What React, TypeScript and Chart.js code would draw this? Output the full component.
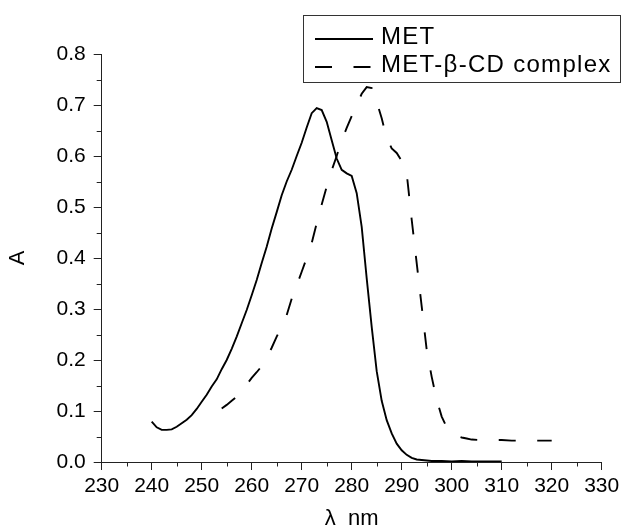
import React, { useEffect, useRef } from "react";
import { Chart, registerables } from "chart.js";

Chart.register(...registerables);

const metWavelength = [240, 241, 242, 243, 244, 245, 246, 247, 248, 249, 250, 251, 252, 253, 254, 255, 256, 257, 258, 259, 260, 261, 262, 263, 264, 265, 266, 267, 268, 269, 270, 271, 272, 273, 274, 275, 276, 277, 278, 279, 280, 281, 282, 283, 284, 285, 286, 287, 288, 289, 290, 291, 292, 293, 294, 295, 296, 298, 300, 302, 304, 306, 308, 310];
const metAbsorbance = [0.079, 0.068, 0.063, 0.063, 0.064, 0.069, 0.076, 0.083, 0.092, 0.104, 0.118, 0.132, 0.148, 0.162, 0.182, 0.2, 0.222, 0.246, 0.272, 0.298, 0.327, 0.357, 0.39, 0.422, 0.458, 0.49, 0.523, 0.55, 0.573, 0.6, 0.626, 0.656, 0.684, 0.694, 0.69, 0.667, 0.631, 0.595, 0.573, 0.566, 0.561, 0.527, 0.461, 0.36, 0.265, 0.178, 0.12, 0.082, 0.056, 0.036, 0.023, 0.014, 0.008, 0.005, 0.004, 0.003, 0.002, 0.002, 0.001, 0.002, 0.001, 0.001, 0.001, 0.001];

const complexWavelength = [254, 255, 256, 257, 258, 259, 260, 261, 262, 263, 264, 265, 266, 267, 268, 269, 270, 271, 272, 273, 274, 275, 276, 277, 278, 279, 280, 281, 282, 283, 284, 285, 286, 287, 288, 289, 290, 291, 292, 293, 294, 295, 296, 297, 298, 299, 300, 301, 302, 303, 304, 306, 308, 310, 312, 314, 316, 318, 320];
const complexAbsorbance = [0.105, 0.112, 0.12, 0.128, 0.14, 0.152, 0.165, 0.176, 0.188, 0.204, 0.224, 0.246, 0.265, 0.288, 0.32, 0.346, 0.373, 0.4, 0.429, 0.468, 0.505, 0.54, 0.572, 0.6, 0.631, 0.655, 0.678, 0.7, 0.722, 0.735, 0.733, 0.706, 0.674, 0.635, 0.615, 0.606, 0.59, 0.566, 0.475, 0.39, 0.305, 0.22, 0.167, 0.122, 0.089, 0.068, 0.056, 0.051, 0.048, 0.046, 0.044, 0.043, 0.043, 0.043, 0.042, 0.042, 0.042, 0.042, 0.042];

const seriesLabels = ["MET", "MET-\u03b2-CD complex"];
const xTitle = "\u03bb  nm";
const yTitle = "A";
const xMin = 230;
const xMax = 330;
const xStep = 10;
const yMin = 0;
const yMax = 0.8;
const yStep = 0.1;

const DASH = [17, 21.5];
const AXIS_COLOR = "#222";
const FONT = "'Liberation Sans', Arial, Helvetica, sans-serif";

const minorTicksAndLegend = {
  id: "minorTicksAndLegend",
  afterDraw(chart: any) {
    const ctx = chart.ctx;
    const xs = chart.scales.x;
    const ys = chart.scales.y;
    const area = chart.chartArea;
    ctx.save();
    ctx.strokeStyle = AXIS_COLOR;
    ctx.lineWidth = 1;
    ctx.beginPath();
    for (let v = xMin + xStep / 2; v < xMax; v += xStep) {
      const px = Math.round(xs.getPixelForValue(v)) + 0.5;
      ctx.moveTo(px, area.bottom);
      ctx.lineTo(px, area.bottom + 4.5);
    }
    for (let i = 0; i < Math.round((yMax - yMin) / yStep); i++) {
      const v = yMin + yStep * (i + 0.5);
      const py = Math.round(ys.getPixelForValue(v)) + 0.5;
      ctx.moveTo(area.left, py);
      ctx.lineTo(area.left - 5, py);
    }
    ctx.stroke();

    // legend box
    const bx = 303.5, by = 15.5, bw = 317, bh = 67;
    ctx.fillStyle = "#fff";
    ctx.fillRect(bx, by, bw, bh);
    ctx.strokeStyle = "#333";
    ctx.lineWidth = 1;
    ctx.strokeRect(bx, by, bw, bh);

    const rows = [39, 67];
    chart.data.datasets.forEach((ds: any, i: number) => {
      const y = rows[i];
      ctx.strokeStyle = ds.borderColor;
      ctx.lineWidth = ds.borderWidth;
      ctx.setLineDash(ds.borderDash || []);
      ctx.beginPath();
      ctx.moveTo(315, y);
      ctx.lineTo(373, y);
      ctx.stroke();
      ctx.setLineDash([]);
      ctx.fillStyle = "#000";
      ctx.font = `24px ${FONT}`;
      (ctx as any).letterSpacing = "1.3px";
      ctx.textBaseline = "middle";
      ctx.textAlign = "left";
      ctx.fillText(ds.label, 381, y - 2);
      (ctx as any).letterSpacing = "0px";
    });
    ctx.restore();
  },
};

export default function App() {
  const canvasRef = useRef<HTMLCanvasElement | null>(null);

  useEffect(() => {
    const canvas = canvasRef.current;
    if (!canvas) return;
    const chart = new Chart(canvas, {
      type: "scatter",
      data: {
        datasets: [
          {
            label: seriesLabels[0],
            data: metWavelength.map((x, i) => ({ x, y: metAbsorbance[i] })),
            showLine: true,
            borderColor: "#000",
            borderWidth: 1.9,
            pointRadius: 0,
            tension: 0,
            fill: false,
          },
          {
            label: seriesLabels[1],
            data: complexWavelength.map((x, i) => ({ x, y: complexAbsorbance[i] })),
            showLine: true,
            borderColor: "#000",
            borderWidth: 1.9,
            borderDash: DASH,
            pointRadius: 0,
            tension: 0,
            fill: false,
          },
        ],
      },
      options: {
        animation: false,
        responsive: false,
        devicePixelRatio: 1,
        layout: { padding: { left: 0, right: 20.3, top: 54, bottom: 0 } },
        plugins: {
          legend: { display: false },
          tooltip: { enabled: false },
        },
        scales: {
          x: {
            type: "linear",
            min: xMin,
            max: xMax,
            afterFit(scale: any) {
              scale.height = 69;
              scale.paddingLeft = 0;
              scale.paddingRight = 0;
            },
            ticks: {
              stepSize: xStep,
              color: "#000",
              font: { family: FONT, size: 21 },
              padding: 4,
              maxRotation: 0,
              autoSkip: false,
            },
            grid: {
              display: true,
              drawOnChartArea: false,
              drawTicks: true,
              tickLength: 8,
              tickColor: AXIS_COLOR,
            },
            border: { display: true, color: AXIS_COLOR, width: 1 },
            title: {
              display: true,
              text: xTitle,
              color: "#000",
              font: { family: FONT, size: 22 },
              padding: { top: 0, bottom: -1 },
            },
          },
          y: {
            type: "linear",
            min: yMin,
            max: yMax,
            afterFit(scale: any) {
              scale.width = 101.7;
              scale.paddingTop = 0;
              scale.paddingBottom = 0;
            },
            ticks: {
              stepSize: yStep,
              color: "#000",
              font: { family: FONT, size: 21 },
              padding: 8,
              callback: (v: any) => Number(v).toFixed(1),
            },
            grid: {
              display: true,
              drawOnChartArea: false,
              drawTicks: true,
              tickLength: 8,
              tickColor: AXIS_COLOR,
            },
            border: { display: true, color: AXIS_COLOR, width: 1 },
            title: {
              display: true,
              text: yTitle,
              color: "#000",
              font: { family: FONT, size: 22 },
              padding: { top: 5, bottom: 0 },
            },
          },
        },
      },
      plugins: [minorTicksAndLegend],
    });
    return () => chart.destroy();
  }, []);

  return (
    <div style={{ position: "absolute", left: 0, top: 0, width: 622, height: 531, background: "#fff" }}>
      <canvas ref={canvasRef} width={622} height={531} style={{ display: "block", width: 622, height: 531 }} />
    </div>
  );
}
